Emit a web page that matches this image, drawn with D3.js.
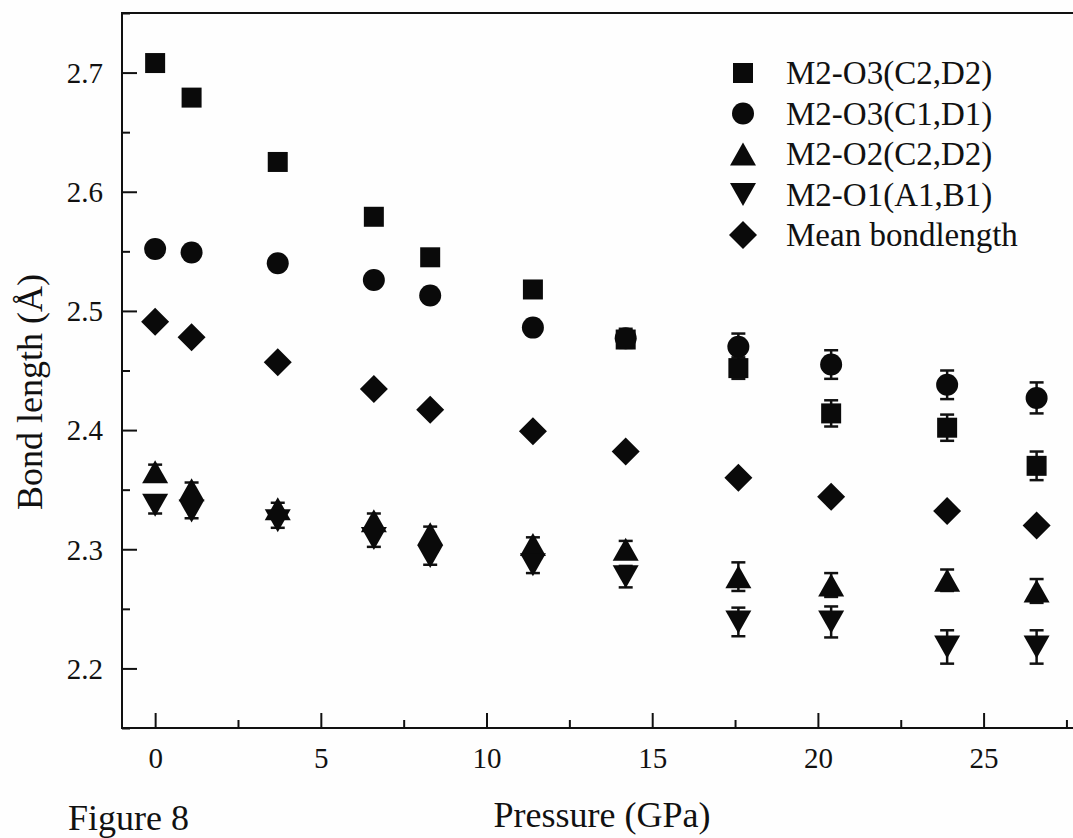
<!DOCTYPE html>
<html>
<head>
<meta charset="utf-8">
<script src="https://cdn.jsdelivr.net/npm/d3@7"></script>
<style>
  html, body { margin: 0; padding: 0; background: #fefefe; }
  svg { display: block; }
  text { font-family: "Liberation Serif", "Times New Roman", serif; fill: #111; }
</style>
</head>
<body>
<svg id="chart"></svg>
<script>
// pressure points (GPa)
var pressure = [0, 1.1, 3.7, 6.6, 8.3, 11.4, 14.2, 17.6, 20.4, 23.9, 26.6];

// bond lengths (Å) and error half-widths
var o3c2 = [2.708, 2.679, 2.625, 2.579, 2.545, 2.518, 2.476, 2.452, 2.414, 2.402, 2.370];
var o3c2Err = [0.003, 0.003, 0.004, 0.004, 0.004, 0.005, 0.006, 0.009, 0.011, 0.011, 0.012];
var o3c1 = [2.552, 2.549, 2.540, 2.526, 2.513, 2.486, 2.477, 2.470, 2.455, 2.438, 2.427];
var o3c1Err = [0.003, 0.004, 0.004, 0.005, 0.005, 0.006, 0.008, 0.011, 0.012, 0.012, 0.013];
var o2c2 = [2.365, 2.350, 2.334, 2.324, 2.313, 2.304, 2.300, 2.277, 2.270, 2.274, 2.265];
var o2c2Err = [0.006, 0.006, 0.005, 0.006, 0.006, 0.006, 0.007, 0.012, 0.010, 0.009, 0.010];
var o1a1 = [2.337, 2.332, 2.324, 2.309, 2.294, 2.287, 2.277, 2.239, 2.239, 2.218, 2.218];
var o1a1Err = [0.007, 0.006, 0.006, 0.007, 0.007, 0.007, 0.009, 0.012, 0.013, 0.014, 0.014];
var meanBond = [2.491, 2.478, 2.457, 2.4345, 2.417, 2.399, 2.382, 2.360, 2.344, 2.332, 2.320];

var seriesNames = ["M2-O3(C2,D2)", "M2-O3(C1,D1)", "M2-O2(C2,D2)", "M2-O1(A1,B1)", "Mean bondlength"];
var seriesShapes = ["square", "circle", "up", "down", "diamond"];
var seriesValues = [o3c2, o3c1, o2c2, o1a1, meanBond];
var seriesErrors = [o3c2Err, o3c1Err, o2c2Err, o1a1Err, null];

var xTicks = [0, 5, 10, 15, 20, 25];
var yTicks = [2.2, 2.3, 2.4, 2.5, 2.6, 2.7];

function drawChart() {
  var width = 1073, height = 838;
  var margin = { left: 122, top: 13, bottom: 728 };
  var font = "'Liberation Serif', 'Times New Roman', serif";

  var svg = d3.select("#chart").attr("width", width).attr("height", height);

  var xScale = d3.scaleLinear().domain([-1, 28]).range([margin.left, 1083]);
  var yScale = d3.scaleLinear().domain([2.15, 2.75]).range([margin.bottom, margin.top]);

  function symbolPath(shape) {
    if (shape == "square") return "M-10,-10H10V10H-10Z";
    if (shape == "circle") return "M-11,0A11,11 0 1,0 11,0A11,11 0 1,0 -11,0Z";
    if (shape == "up") return "M0,-11.5L13,11.5L-13,11.5Z";
    if (shape == "down") return "M0,11.5L13,-11.5L-13,-11.5Z";
    return "M0,-14L14,0L0,14L-14,0Z";
  }

  // minor ticks
  svg.append("g")
    .attr("transform", "translate(" + margin.left + ",0)")
    .call(d3.axisLeft(yScale).tickValues([2.15, 2.25, 2.35, 2.45, 2.55, 2.65, 2.75]).tickSize(-8).tickFormat(""))
    .call(function (g) { g.select(".domain").remove(); });
  svg.append("g")
    .attr("transform", "translate(0," + margin.bottom + ")")
    .call(d3.axisBottom(xScale).tickValues([2.5, 7.5, 12.5, 17.5, 22.5, 27.5]).tickSize(-8).tickFormat(""))
    .call(function (g) { g.select(".domain").remove(); });

  // major ticks + labels
  var yAxis = svg.append("g")
    .attr("transform", "translate(" + margin.left + ",0)")
    .call(d3.axisLeft(yScale).tickValues(yTicks).tickSize(-15).tickPadding(19).tickFormat(d3.format(".1f")));
  yAxis.select(".domain").remove();
  yAxis.attr("font-family", font).attr("font-size", 29);
  yAxis.selectAll("text").attr("dy", "0.34em");

  var xAxis = svg.append("g")
    .attr("transform", "translate(0," + margin.bottom + ")")
    .call(d3.axisBottom(xScale).tickValues(xTicks).tickSize(-15).tickPadding(19));
  xAxis.select(".domain").remove();
  xAxis.attr("font-family", font).attr("font-size", 29);

  svg.selectAll(".tick line").attr("stroke", "#111").attr("stroke-width", 2);
  svg.selectAll(".tick text").attr("fill", "#111");

  // frame
  svg.append("rect")
    .attr("x", margin.left)
    .attr("y", margin.top)
    .attr("width", 1083 - margin.left)
    .attr("height", margin.bottom - margin.top)
    .attr("fill", "none")
    .attr("stroke", "#111")
    .attr("stroke-width", 2);

  // error bars
  for (var s = 0; s < seriesValues.length; s++) {
    if (!seriesErrors[s]) continue;
    for (var i = 0; i < pressure.length; i++) {
      var cx = xScale(pressure[i]);
      var yTop = yScale(seriesValues[s][i] + seriesErrors[s][i]);
      var yBot = yScale(seriesValues[s][i] - seriesErrors[s][i]);
      var g = svg.append("g").attr("stroke", "#111").attr("stroke-width", 2.5);
      g.append("line").attr("x1", cx).attr("x2", cx).attr("y1", yTop).attr("y2", yBot);
      g.append("line").attr("x1", cx - 7).attr("x2", cx + 7).attr("y1", yTop).attr("y2", yTop);
      g.append("line").attr("x1", cx - 7).attr("x2", cx + 7).attr("y1", yBot).attr("y2", yBot);
    }
  }

  // markers
  for (var s = 0; s < seriesValues.length; s++) {
    svg.append("g")
      .selectAll("path")
      .data(seriesValues[s])
      .enter()
      .append("path")
      .attr("d", symbolPath(seriesShapes[s]))
      .attr("transform", function (d, i) {
        return "translate(" + xScale(pressure[i]) + "," + yScale(d) + ")";
      })
      .attr("fill", "#0a0a0a");
  }

  // legend
  for (var s = 0; s < seriesNames.length; s++) {
    var ly = 73 + s * 40.5;
    svg.append("path")
      .attr("d", symbolPath(seriesShapes[s]))
      .attr("transform", "translate(743," + ly + ")")
      .attr("fill", "#0a0a0a");
    svg.append("text")
      .attr("x", 786)
      .attr("y", ly + 11)
      .style("font-size", "33px")
      .text(seriesNames[s]);
  }

  // titles
  svg.append("text")
    .attr("text-anchor", "middle")
    .attr("transform", "translate(42,392)rotate(-90)")
    .style("font-size", "36px")
    .text("Bond length (Å)");

  svg.append("text")
    .attr("text-anchor", "middle")
    .attr("x", 602)
    .attr("y", 827)
    .style("font-size", "36px")
    .text("Pressure (GPa)");

  svg.append("text")
    .attr("x", 68)
    .attr("y", 830)
    .style("font-size", "36px")
    .text("Figure 8");
}

drawChart();
</script>
</body>
</html>
